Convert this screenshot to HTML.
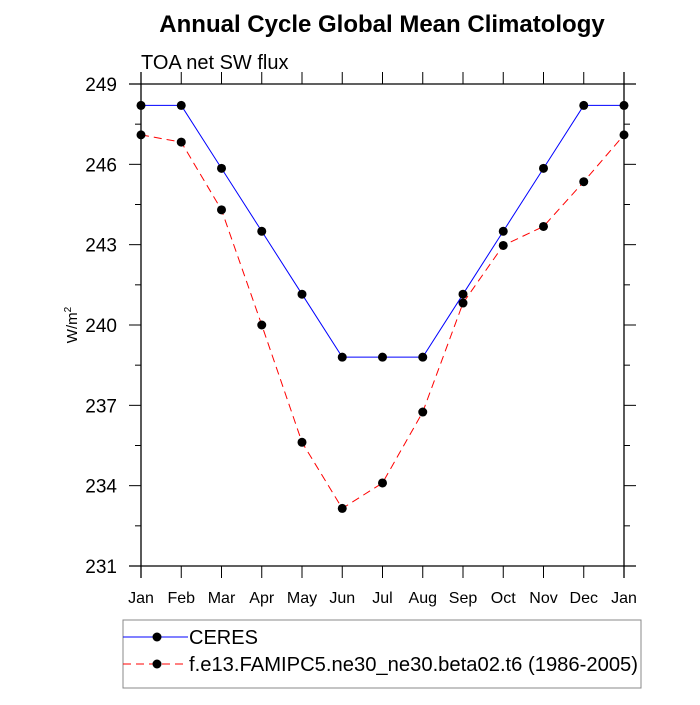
<!DOCTYPE html>
<html><head><meta charset="utf-8"><style>
body{margin:0;background:#fff}
svg text{font-family:"Liberation Sans",sans-serif}
</style></head><body>
<svg id="c" width="700" height="700" xmlns="http://www.w3.org/2000/svg">
<text x="382" y="32" font-size="24" font-weight="bold" text-anchor="middle">Annual Cycle Global Mean Climatology</text>
<text x="141" y="69" font-size="20">TOA net SW flux</text>
<text transform="translate(77,325) rotate(-90)" font-size="15" text-anchor="middle">W/m<tspan font-size="10" dy="-6">2</tspan></text>
<g id="axes"></g>
<g id="series"></g>
<rect x="123" y="620" width="518" height="68" fill="none" stroke="#888" stroke-width="1"/>
<g>
<line x1="123" y1="637" x2="188" y2="637" stroke="#00f" stroke-width="1"/>
<circle cx="157" cy="637" r="4.5" fill="#000"/>
<text x="189" y="644" font-size="20">CERES</text></g>
<g>
<line x1="123" y1="664" x2="188" y2="664" stroke="#f00" stroke-width="1" stroke-dasharray="8,5"/>
<circle cx="157" cy="664" r="4.5" fill="#000"/>
<text x="189" y="671" font-size="20" textLength="449" lengthAdjust="spacingAndGlyphs">f.e13.FAMIPC5.ne30_ne30.beta02.t6 (1986-2005)</text></g>
</svg>
<script>
const months=["Jan","Feb","Mar","Apr","May","Jun","Jul","Aug","Sep","Oct","Nov","Dec","Jan"];
const yTicks=[231,234,237,240,243,246,249];
const ceres=[248.2,248.2,245.85,243.5,241.15,238.8,238.8,238.8,241.15,243.5,245.85,248.2,248.2];
const model=[247.1,246.83,244.3,240.0,235.62,233.15,234.1,236.75,240.82,242.97,243.68,245.35,247.1];
const X0=141,X1=624,Y0=566,Y1=84,VMIN=231,VMAX=249;
const xs=i=>X0+(X1-X0)*i/12;
const ys=v=>Y0-(Y0-Y1)*(v-VMIN)/(VMAX-VMIN);
const NS="http://www.w3.org/2000/svg";
function mk(t,a,p){const e=document.createElementNS(NS,t);for(const k in a)e.setAttribute(k,a[k]);p.appendChild(e);return e;}
const ax=document.getElementById('axes');
let e;
e=mk('line',{x1:129,y1:Y0,x2:636,y2:Y0,stroke:'#000','stroke-width':1.3},ax);


e=mk('line',{x1:129,y1:Y1,x2:636,y2:Y1,stroke:'#000','stroke-width':1.3},ax);


e=mk('line',{x1:X0,y1:72,x2:X0,y2:578,stroke:'#000','stroke-width':1.3},ax);


e=mk('line',{x1:X1,y1:72,x2:X1,y2:578,stroke:'#000','stroke-width':1.3},ax);


months.forEach((m,i)=>{const x=xs(i);
mk('line',{x1:x,y1:Y0,x2:x,y2:578,stroke:'#000'},ax);
mk('line',{x1:x,y1:Y1,x2:x,y2:72,stroke:'#000'},ax);
e=mk('text',{x:x,y:603,'font-size':16,'text-anchor':'middle'},ax);e.textContent=m;

});
for(let v=VMIN;v<=VMAX;v+=1.5){const y=ys(v);const major=(v-VMIN)%3===0;const L=major?12:6;
mk('line',{x1:X0,y1:y,x2:X0-L,y2:y,stroke:'#000'},ax);
mk('line',{x1:X1,y1:y,x2:X1+L,y2:y,stroke:'#000'},ax);}
yTicks.forEach(v=>{e=mk('text',{x:117,y:ys(v)+7,'font-size':19,'text-anchor':'end'},ax);e.textContent=v;

});
const sg=document.getElementById('series');
function draw(d,col,dash,name){
const p=mk('polyline',{points:d.map((v,i)=>xs(i)+','+ys(v)).join(' '),fill:'none',stroke:col,'stroke-width':1,'stroke-dasharray':dash},sg);


d.forEach((v,i)=>{const c=mk('circle',{cx:xs(i),cy:ys(v),r:4.5,fill:'#000'},sg);

});}
draw(ceres,'#00f','none','ceres');
draw(model,'#f00','8,5','model');
</script>
</body></html>
